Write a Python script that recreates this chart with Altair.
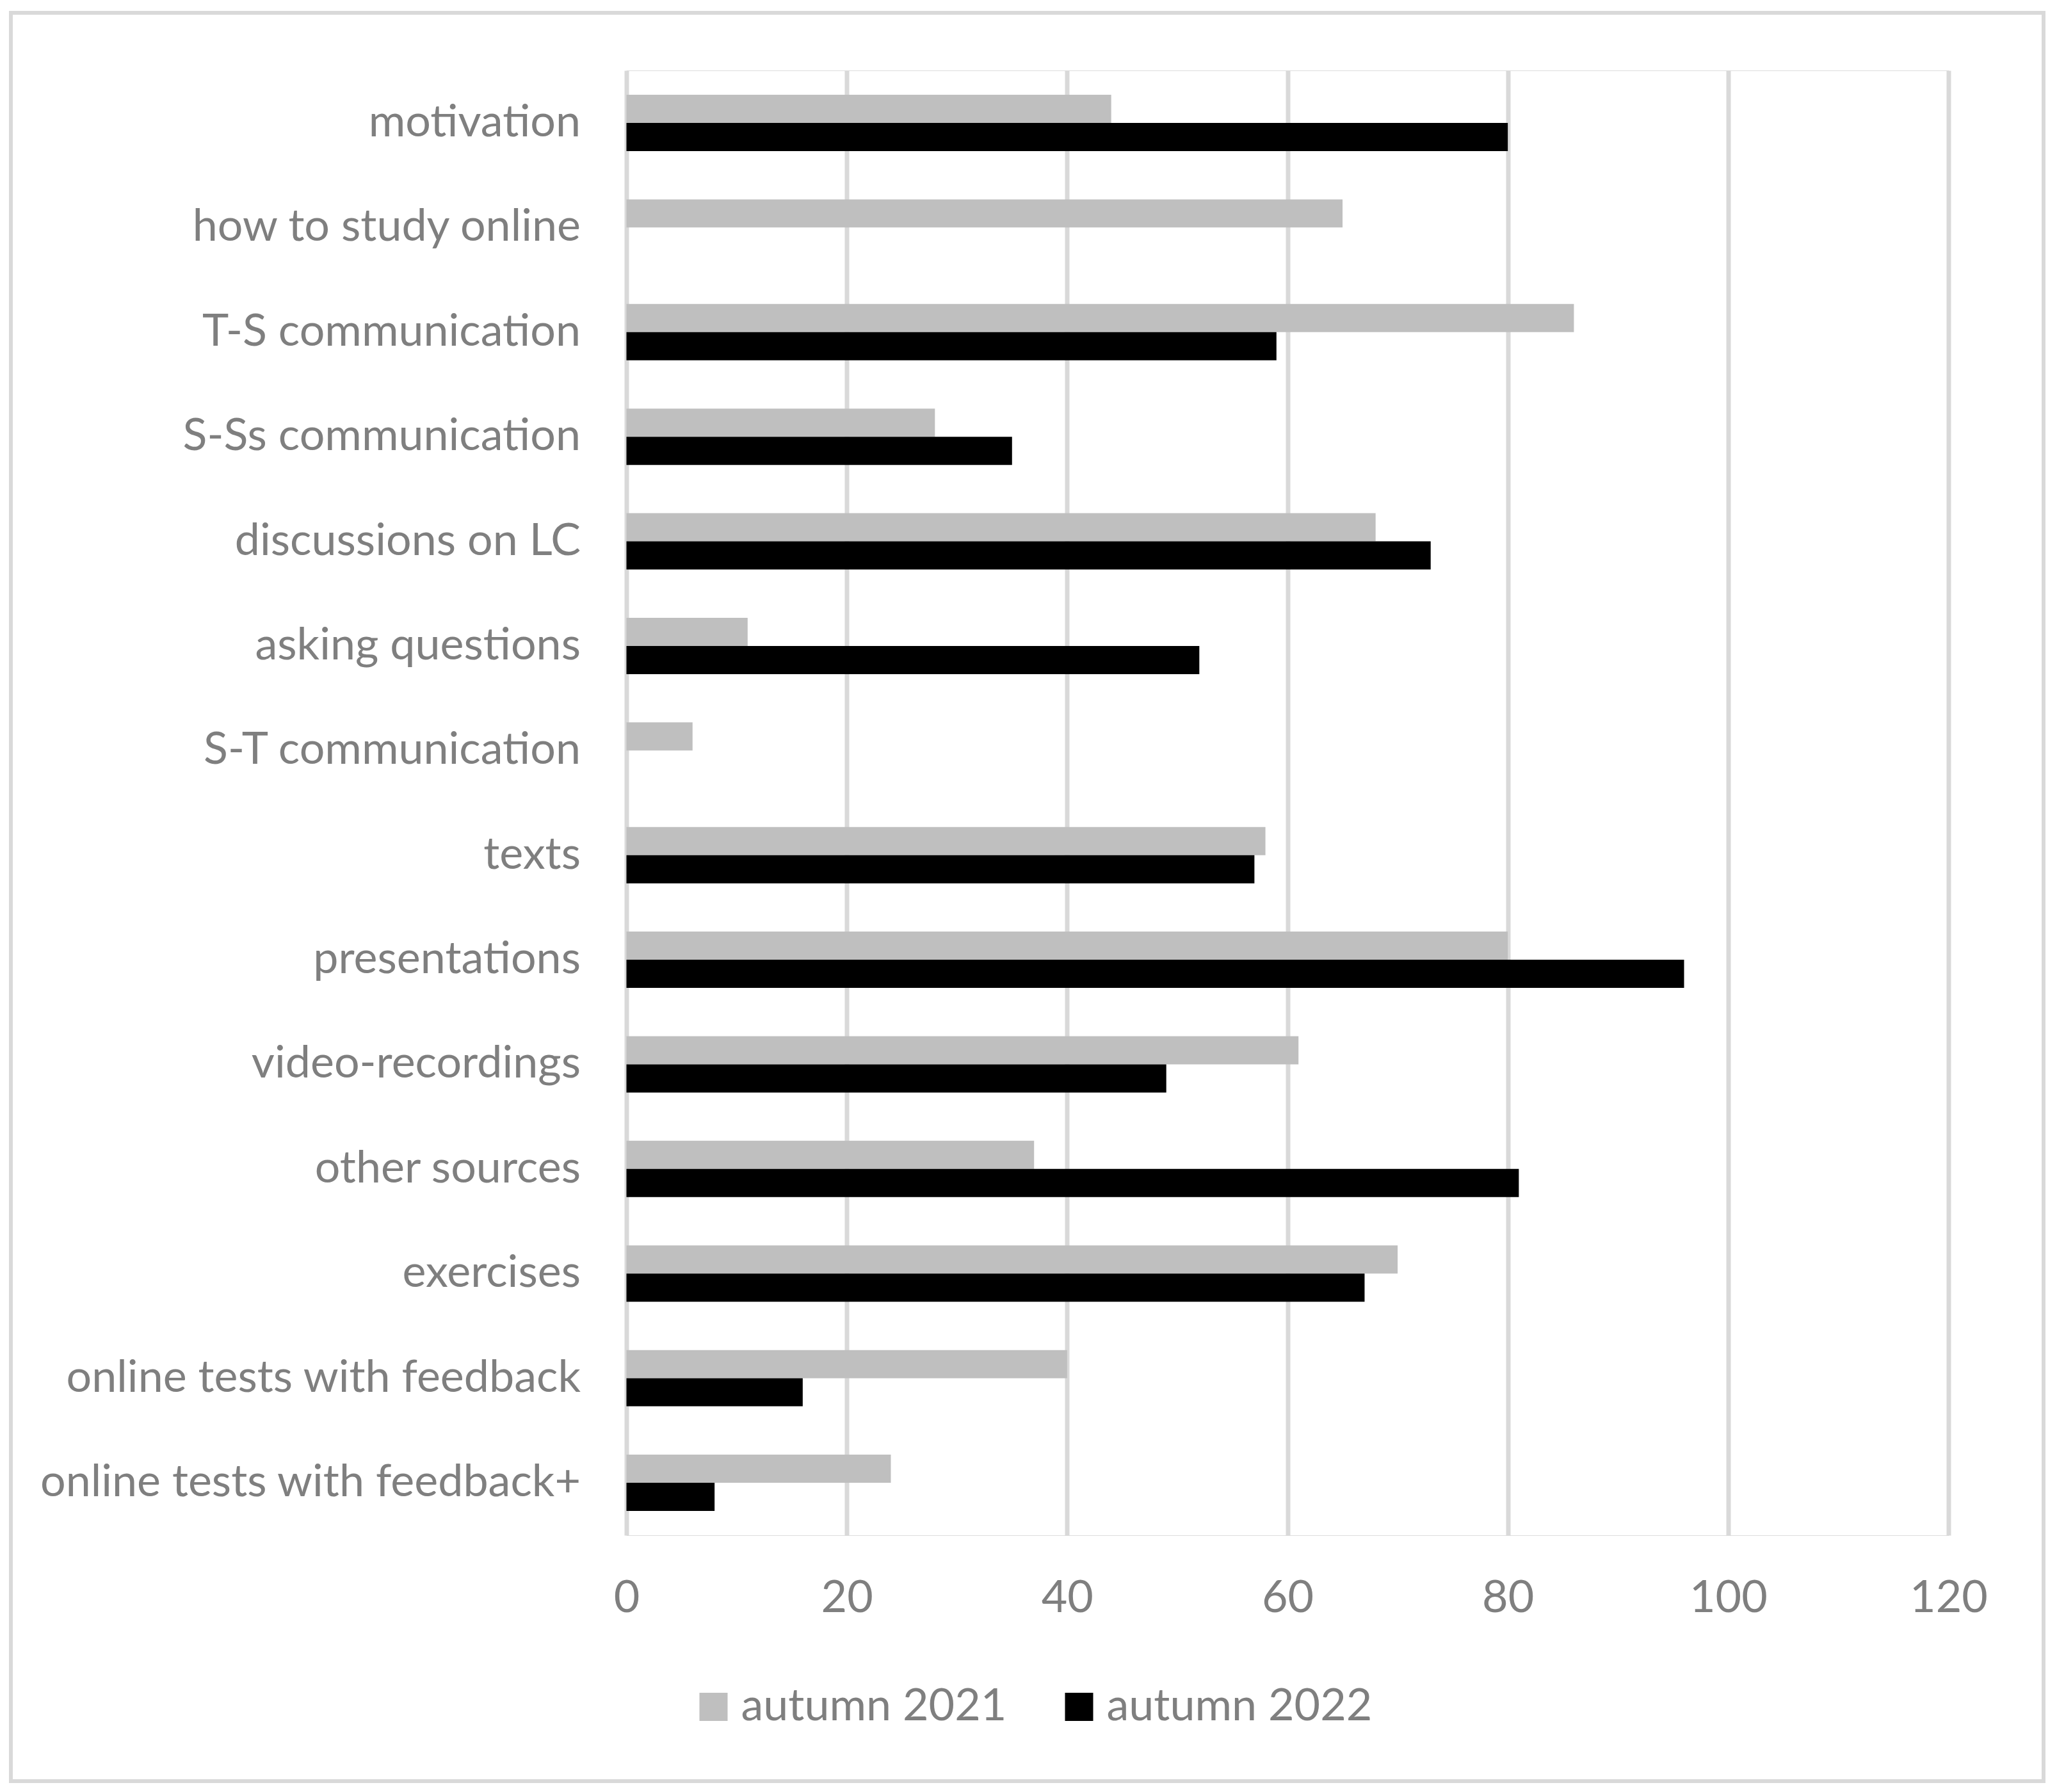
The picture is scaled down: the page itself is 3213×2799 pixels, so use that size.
import altair as alt
import pandas as pd

categories = [
    "motivation",
    "how to study online",
    "T-S communication",
    "S-Ss communication",
    "discussions on LC",
    "asking questions",
    "S-T communication\u00a0",
    "texts",
    "presentations",
    "video-recordings\u00a0",
    "other sources",
    "exercises",
    "online tests with feedback",
    "online tests with feedback+",
]
series_names = ["autumn 2021", "autumn 2022"]
values_2021 = [44, 65, 86, 28, 68, 11, 6, 58, 80, 61, 37, 70, 40, 24]
values_2022 = [80, 0, 59, 35, 73, 52, 0, 57, 96, 49, 81, 67, 16, 8]
x_ticks = [0, 20, 40, 60, 80, 100, 120]
colors = ["#bfbfbf", "#000000"]

rows = []
for c, v in zip(categories, values_2021):
    rows.append({"category": c, "series": series_names[0], "value": v})
for c, v in zip(categories, values_2022):
    rows.append({"category": c, "series": series_names[1], "value": v})
df = pd.DataFrame(rows)

FONT = "Lato"
TEXT = "#7f7f7f"
GRID = "#d9d9d9"

bars = alt.Chart(df).mark_bar().encode(
    y=alt.Y(
        "category:N",
        sort=categories,
        title=None,
        scale=alt.Scale(paddingInner=0.4615, paddingOuter=0.2325),
        axis=alt.Axis(
            labelFont=FONT, labelFontSize=70, labelColor=TEXT,
            labelLimit=2000, labelPadding=72, ticks=False, tickSize=0,
            domain=False, grid=False,
        ),
    ),
    yOffset=alt.YOffset(
        "series:N", sort=series_names,
        scale=alt.Scale(paddingInner=0, paddingOuter=0),
    ),
    x=alt.X(
        "value:Q",
        title=None,
        scale=alt.Scale(domain=[0, 120], nice=False),
        axis=alt.Axis(
            values=x_ticks, labelFont=FONT, labelFontSize=70, labelColor=TEXT,
            labelPadding=64, ticks=False, tickSize=0, domain=False,
            labelFlush=False, labelOverlap=False,
            grid=True, gridColor=GRID, gridWidth=7,
        ),
    ),
    color=alt.Color(
        "series:N",
        sort=series_names,
        scale=alt.Scale(domain=series_names, range=colors),
        legend=alt.Legend(
            title=None, orient="none", direction="horizontal",
            legendX=101, legendY=2521,
            symbolType="square", symbolSize=1936, symbolStrokeWidth=0,
            labelFont=FONT, labelFontSize=70, labelColor=TEXT,
            labelLimit=2000, labelOffset=8, columnPadding=78, padding=0,
        ),
    ),
)

border = alt.Chart(pd.DataFrame({"a": [0]})).mark_rect(
    filled=False, stroke=GRID, strokeWidth=6
).encode(
    x=alt.value(-961.5), x2=alt.value(2213.5),
    y=alt.value(-90), y2=alt.value(2672),
)

chart = alt.layer(border, bars).properties(
    width=2065,
    height=2288,
    autosize=alt.AutoSizeParams(type="none"),
    padding={"left": 970.5, "top": 102, "right": 160, "bottom": 390},
).configure_view(stroke=None).configure(background="white")

chart.save("out.html", embed_options={"renderer": "svg", "actions": False})
